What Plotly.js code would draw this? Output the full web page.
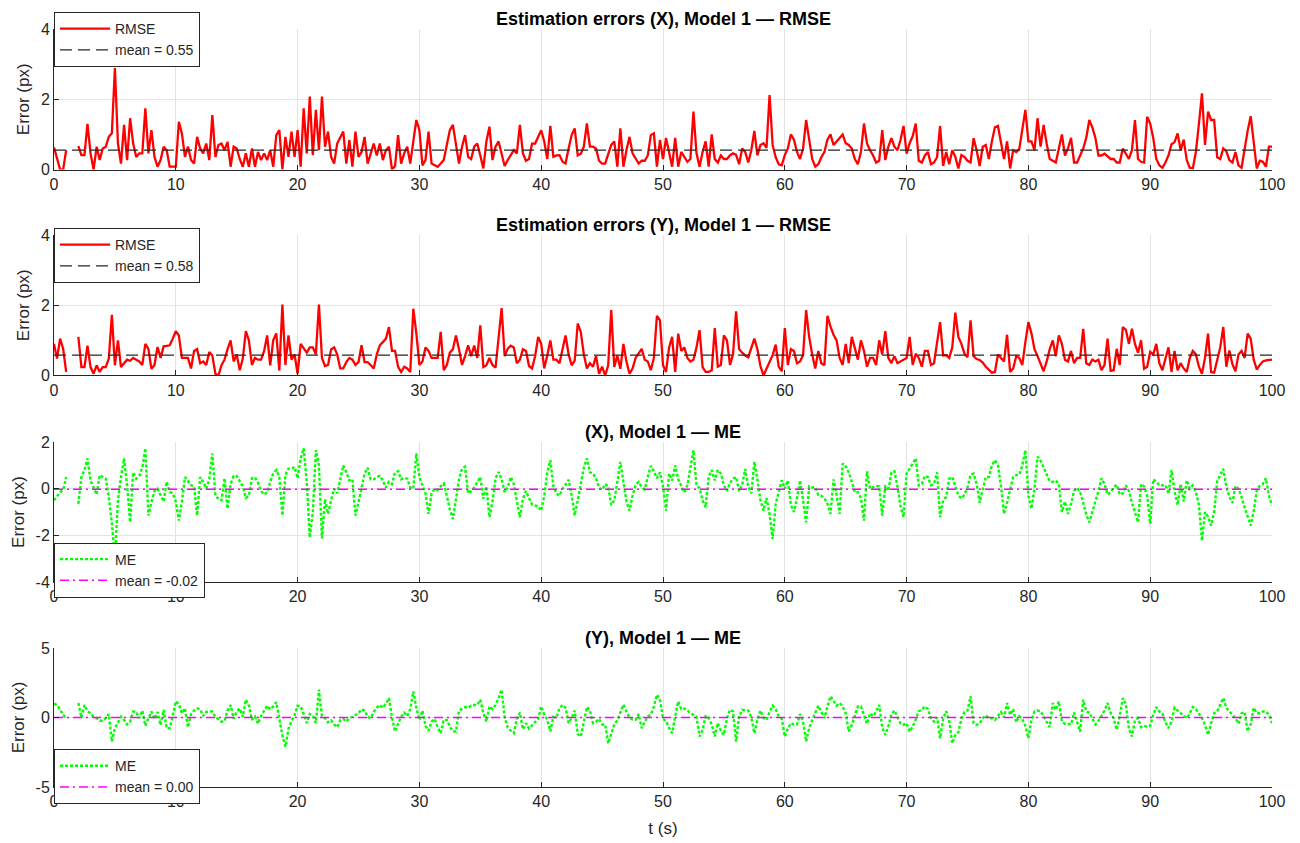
<!DOCTYPE html>
<html>
<head>
<meta charset="utf-8">
<script src="https://cdn.plot.ly/plotly-3.0.1.min.js"></script>
<style>
  html, body { margin: 0; padding: 0; background: #fff; }
  #chart { width: 1300px; height: 843px; }
</style>
</head>
<body>
<div id="chart"></div>
<script>
// ---------------- DATA (sample step 0.25 s, t = 0 ... 100) ----------------
const dt = 0.25;

const rmseX = [
  // t 0 - 34
  .63, .35, 0, 0, .55, null, null, null, .67, .41,
  .41, 1.3, .46, 0, .65, .27, .6, .65, .93, 1.03,
  2.89, .74, .17, 1.27, .27, 1.46, .74, .36, .46, .46,
  1.74, .46, 1.12, .36, .08, .27, .65, .55, .08, .08,
  .08, 1.36, 1.03, .36, .65, .27, .17, .93, .6, .46,
  .74, .27, 1.55, .36, .7, .74, .55, .79, .08, .65,
  .6, .3, .08, .46, .08, .6, .08, .5, .27, .46,
  .27, .55, .08, .98, 1.12, 0, .93, .36, 1.08, .36,
  1.12, .08, 1.74, .46, 2.08, .41, 1.7, .55, 2.08, .65,
  1.08, .36, .17, .74, .9, 1.08, .17, .84, .08, 1.08,
  .36, .5, .93, .17, .45, .74, .4, .74, .27, .55,
  .65, 0, .1, .98, .17, .46, .65, .17, .8, 1.41,
  1.12, .12, .27, 1.08, .17, .12, .08, .17, .27, .7,
  1.12, 1.27, .74, .17, .65, .98, .36,
  // t 34.25 - 67.75
  .3, .65, .74, .4, .03, .8, 1.22, .27, .65, .8,
  .45, .1, .27, .4, .55, .46, 1.27, .46, .25, .3,
  .74, .74, .95, 1.12, .8, .3, 1.24, .36, .4, .41,
  .22, .17, .6, .98, 1.17, .4, .45, .65, 1.31, .65,
  .65, .6, .25, .17, .17, .45, .7, .8, .08, 1.17,
  .08, .55, .93, .46, .3, .17, .25, .25, .4, .98,
  1.03, .08, .84, .3, .9, .5, .08, .9, .08, .5,
  .35, .22, .3, 1.65, .46, .08, .5, .8, .08, 1.0,
  .3, .2, .4, .3, .3, .4, .46, .42, .15, .6,
  .5, .2, .55, 1.1, .4, .7, .75, .62, 2.12, .7,
  .35, .15, .12, .41, .6, 1.0, .85, .5, .3, .6,
  1.41, .8, .3, .08, .15, .35, .5, .85, 1.0, .7,
  .8, .9, 1.0, .75, .7, .6, .3, .15, .5, 1.31,
  .74, .55, .4, .2, .25,
  // t 68 - 100
  1.12, .27, .65, .89, .65, .55, .84, 1.24, .45, .75,
  .95, 1.31, .25, .2, .4, .5, .15, .2, .35, 1.24,
  .1, .5, .15, .55, .36, .03, .41, .36, .25, .2,
  .89, .55, .1, .65, .7, .3, .8, 1.2, 1.24, .8,
  .3, .8, .03, .55, .5, .58, 1.2, 1.7, .8, .8,
  .55, 1.46, .65, 1.27, .74, .3, .25, .2, .6, 1.0,
  .4, .6, .9, .2, .2, .4, .6, .9, 1.41, 1.2,
  .9, .4, .4, .45, .36, .3, .3, .2, .2, .6,
  .45, .3, .55, 1.41, .3, .22, .2, 1.5, 1.31, .9,
  .3, .12, .05, .2, .4, .72, .78, 1.03, .55, .85,
  .27, .05, .03, .5, 1.3, 2.17, .7, 1.65, 1.41, 1.41,
  .35, .3, .6, .52, .27, .2, .5, .12, .05, .6,
  1.1, 1.52, .7, .03, .25, .22, .08, .65, .65
];

const rmseY = [
  // t 0 - 34
  .9, .48, 1.05, .76, .1, null, null, null, 1.1, .24,
  .24, .85, .24, .05, .29, .1, .24, .24, .48, 1.73,
  .29, 1.0, .24, .35, .45, .42, .5, .45, .4, .3,
  .9, .76, .19, .3, .81, .5, .83, .84, .86, 1.05,
  1.26, 1.14, .5, .5, .5, .2, .7, .75, .35, .4,
  .3, .67, .57, .05, 0, .29, .45, .75, 1.0, .4,
  .6, .15, .48, 1.26, 1.0, .3, .5, .45, .45, .7,
  1.14, .29, 1.0, 1.2, .14, 2.02, .3, 1.14, .45, .6,
  .05, .9, .78, .65, .8, .8, .6, 2.02, .5, .27,
  .3, .74, .8, .6, .2, .2, .38, .5, .45, .3,
  .38, .86, .38, .38, .3, .2, .6, .86, .95, 1.05,
  1.38, .7, .7, .25, .1, .25, .2, .1, 1.9, 1.2,
  .3, .4, .8, .7, .5, .5, .5, 1.24, .15, .3,
  .65, .75, 1.14, .75, .3, .55, .86,
  // t 34.25 - 67.75
  .55, .85, .5, 1.43, .24, .29, .5, .3, .22, 1.0,
  1.92, .55, .76, .85, .8, .35, .45, .75, .7, .27,
  .2, .55, 1.1, .9, .2, .57, 1.0, .45, .45, .35,
  .8, 1.14, .6, .29, .42, 1.48, 1.24, .6, .2, .35,
  .25, .55, .05, .25, 0, .29, 1.86, .24, .57, .19,
  .9, .4, .05, .2, .5, .62, .76, .45, .4, .15,
  .5, 1.7, 1.57, .29, .1, .8, 1.1, .1, 1.19, .7,
  .8, .5, .4, .45, .8, 1.29, .24, .1, .1, .15,
  1.35, .25, .3, 1.14, 1.0, .3, .6, 1.83, .75, .65,
  .57, .52, .8, 1.05, .75, .27, 0, .19, .4, .58,
  .88, .25, .12, 1.35, .3, .75, .7, .35, .4, .58,
  1.86, 1.1, .6, .2, .7, .35, .29, 1.7, 1.4, 1.16,
  1.0, .5, .3, .9, .35, 1.1, .78, .45, 1.0, .7,
  .25, .5, .5, .3, 1.0,
  // t 68 - 100
  .6, 1.26, .5, .35, .55, .35, .4, .45, .5, 1.1,
  .3, .62, .5, .25, .7, .7, .3, .35, 1.0, 1.52,
  .57, .58, .5, .8, 1.79, 1.1, .9, .62, .52, 1.57,
  .55, .47, .44, .37, .25, .17, .08, .1, .6, .5,
  .4, 1.16, .1, .2, .55, .5, .3, .95, 1.52, 1.2,
  .75, .55, .35, .12, .4, .75, 1.0, .55, 1.14, .9,
  .45, .4, .7, .35, .5, .5, 1.33, .35, .3, .45,
  .4, .45, .15, .3, 1.05, .13, .15, .76, .3, 1.38,
  1.3, .9, 1.33, .9, .65, 1.0, .19, .25, .67, .6,
  .9, .35, .15, .45, .8, .1, .7, .15, .35, .2,
  .1, .5, .7, .6, .25, .05, .5, 1.19, .1, .08,
  .4, .8, 1.38, .25, .71, .32, .12, .6, .7, .5,
  1.19, 1.05, .45, .17, .3, .4, .43, .43, .45
];

const meX = [
  // t 0 - 34
  -.5, -.3, -.15, -.05, .5, null, null, null, -.65, .5,
  .8, 1.3, .35, .05, -.25, .58, .5, .43, -.35, -1.5,
  -2.95, -.5, .5, 1.3, .15, -1.44, .7, .43, .55, .9,
  1.73, -1.15, -.58, -.1, 0, -.3, -.55, .3, -.14, -.2,
  -.55, -1.37, -.55, .5, .3, .15, .1, -1.15, .5, .29,
  0, .4, 1.51, -.3, -.43, -.5, .45, -.86, .2, .55,
  .55, .35, .1, -.4, -.3, .45, .48, .25, -.1, -.25,
  -.15, .3, .65, .8, .5, -1.15, .6, .86, .86, .93,
  .45, 1.3, 1.73, .3, -2.09, -1.0, 1.65, 1.0, -2.13, -.45,
  -1.08, -.5, 0, -.2, .45, 1.0, .7, .35, .4, -1.15,
  -.58, 0, .65, .9, .4, .4, .5, .55, .35, .05,
  .3, .2, .7, .75, .4, .47, .43, .05, 0, 1.51,
  .5, .14, -.2, -1.08, -.2, 0, -.05, .1, .22, -.3,
  -.9, -1.3, -.5, .4, .86, .94, -.2,
  // t 34.25 - 67.75
  -.1, .05, .3, .5, -.43, .1, -1.22, -.55, .45, .72,
  .4, -.15, .05, .5, .2, -.5, -1.22, -.43, -.1, -.4,
  -.68, -.72, -.75, -.95, -.3, .7, 1.22, .1, -.2, -.3,
  0, .17, .38, -.3, -1.15, -.5, .14, .9, 1.3, .7,
  .65, .45, .05, -.05, .2, .1, -.7, -.5, .29, 1.15,
  .29, -.55, -.94, -.3, .17, .29, .07, -.03, .5, .98,
  .75, .45, .7, .1, -.94, .65, .35, 1.0, .4, .15,
  -.15, .14, .9, 1.65, .15, .03, -.5, -.8, .5, .8,
  .35, .8, .65, .15, -.1, .25, .43, .5, -.1, .15,
  .85, .08, -.2, 1.15, .4, -.5, -.94, -.4, -1.1, -2.16,
  -.65, -.1, .36, 0, .35, -.7, -1.0, -.4, .36, -.5,
  -1.44, .1, .05, .07, -.27, -.3, -.4, -.65, -1.08, .4,
  -.25, -1.08, 1.08, .95, .7, .3, -.15, -.15, -.4, -1.37,
  .75, 0, .07, .12, .1,
  // t 68 - 100
  -1.15, .14, -.1, .7, .75, .1, -.75, -1.22, .65, .86,
  1.1, 1.3, .14, .2, .55, .5, .15, .2, .7, -1.22,
  -.5, -.35, .43, .5, .1, -.29, -.42, -.25, .05, .6,
  .65, .2, -.6, 0, .5, .5, 1.0, 1.22, 1.0, .1,
  -1.08, -.6, 0, .5, .58, .6, 1.0, 1.65, -.3, -.86,
  0, 1.37, 1.2, .9, .55, .32, .29, .35, .2, -1.0,
  -.55, -1.08, -.65, -.1, .04, -.15, -.6, -1.1, -1.44, -1.0,
  -.55, -.1, .45, .2, -.25, -.15, .05, .17, -.25, -.2,
  .15, -.1, -.6, -1.0, -1.44, .2, .1, -.3, -1.51, .4,
  .3, .14, .14, .15, -.22, .8, -.1, -.7, .2, -.55,
  .36, 0, .14, -.14, -.7, -2.23, -1.0, -1.2, -1.58, -1.0,
  .33, .6, .85, .1, -.35, -.6, .12, 0, -.35, -.8,
  -1.2, -1.58, -.95, -.07, .13, .2, .45, -.3, -.72
];

const meY = [
  // t 0 - 34
  1.0, .9, .55, .19, -.05, null, null, null, 1.04, 0,
  .9, .45, .3, .07, -.05, -.22, -.25, -.05, .25, -1.73,
  -.77, -.4, .05, -.17, -.5, -.29, .43, .4, -.05, .5,
  -.6, -.05, .43, -.1, .4, -.55, .55, -.77, -.77, .1,
  1.16, .95, .3, .67, -.7, .25, .5, .65, .6, .1,
  .4, .43, .43, .05, -.15, -.3, -.27, .5, .9, -.1,
  .43, .65, .05, 1.28, .85, -.17, .07, -.45, .1, .5,
  .85, .6, .8, 1.1, -.15, -1.3, -2.1, -.8, -.25, .15,
  .85, .8, .25, -.4, .25, .1, -.4, 2.0, .1, -.05,
  -.35, -.2, -.5, -.7, -.2, -.1, -.29, -.05, .05, .15,
  .3, .6, .5, .05, -.05, .4, .7, .9, .7, 1.0,
  1.4, 0, -1.01, -.45, .05, .35, .1, .6, 1.88, .7,
  -.17, .5, -.6, -.95, -.3, -.1, -.7, -1.13, -.17, -.17,
  -.65, -1.0, -1.01, .5, .65, .75, .7,
  // t 34.25 - 67.75
  .85, .9, .9, 1.28, .3, -.29, .8, .6, .9, 1.4,
  2.0, 0, -.72, -.95, -1.13, -.1, .35, -.85, -.41, -.8,
  -.6, -.33, -.1, .8, .2, -.17, -1.0, .05, -.02, .67,
  .9, .7, -.4, -.05, .5, -1.2, -1.37, -.3, .75, .5,
  -.4, -.3, -.1, -.5, -.5, -1.86, -1.13, -.5, -.2, .43,
  .92, .43, 0, -.15, -.17, .25, -.77, -.3, .07, .2,
  .8, 1.64, 1.3, -.1, -.25, -.75, -1.13, .1, 1.16, .6,
  .65, .5, .3, .19, .05, -1.37, -.9, .1, 0, -.5,
  -1.37, -.4, -.95, -1.25, -.05, .55, .43, -1.73, .1, .55,
  .55, .5, 0, -1.13, -.17, .5, -.05, -.17, .4, .85,
  .6, .1, -.1, -1.37, -.8, -.41, -.5, -.5, .25, -.3,
  -1.73, -.75, -.2, .4, .85, .4, -.05, .8, 1.52, 1.2,
  .85, 1.04, .8, .3, -1.01, -.55, .1, .8, .8, .1,
  -.45, .3, .1, .43, .9,
  // t 68 - 100
  -.7, -1.25, -.65, .25, .5, 0, -.43, -.53, -.41, -1.01,
  -.65, -.15, .45, .55, .8, .6, -.05, -.3, 0, -1.49,
  -.1, .45, -.25, -1.86, -1.25, -1.05, -.1, .4, .5, 1.52,
  -.41, -.53, -.42, -.05, .15, -.05, -.05, -.17, .15, .4,
  0, 1.04, .19, .6, -.35, .1, -.1, -.6, -1.49, -.2,
  .43, .5, .45, .1, -.25, -.7, 1.04, .55, 1.16, -.3,
  -.45, -.5, -.5, .35, -.4, -1.01, 1.28, .43, .35, -.1,
  -.5, -.25, .15, .5, 1.04, .35, -.05, -.89, .1, 1.4,
  .95, -.8, -1.37, -.2, -.05, -.7, -.6, -.68, -.6, .2,
  .75, .43, .3, -.35, -.77, -.3, .7, .5, .25, .12,
  -.05, .3, .75, .6, .28, -.05, -.53, -1.25, -.4, .31,
  .43, .95, 1.4, .7, .47, .25, -.05, -.45, .3, .4,
  -1.0, -.5, .7, .31, .31, .43, .43, .2, -.41
];

// means reported in the legends
const meanRmseX = 0.55;
const meanRmseY = 0.58;
const meanMeX = -0.02;
const meanMeY = 0.00;

const tRange = [0, 100];
const xTickVals = [0, 10, 20, 30, 40, 50, 60, 70, 80, 90, 100];

const titles = [
  'Estimation errors (X), Model 1 \u2014 RMSE',
  'Estimation errors (Y), Model 1 \u2014 RMSE',
  '(X), Model 1 \u2014 ME',
  '(Y), Model 1 \u2014 ME'
];
const yLabel = 'Error (px)';
const xLabel = 't (s)';

const y1Ticks = [0, 2, 4],        y1Text = ['0', '2', '4'],        y1Range = [0, 4];
const y2Ticks = [0, 2, 4],        y2Text = ['0', '2', '4'],        y2Range = [0, 4];
const y3Ticks = [-4, -2, 0, 2],   y3Text = ['-4', '-2', '0', '2'], y3Range = [-4, 2];
const y4Ticks = [-5, 0, 5],       y4Text = ['-5', '0', '5'],       y4Range = [-5, 5];

// ---------------- BUILD ----------------
const tOf = arr => arr.map((_, i) => i * dt);

const FONT = 'Liberation Sans, Arial, Helvetica, sans-serif';
const AX = '#262626';
const GRID = '#e3e3e3';

function meanLine(m, xa, ya, lg, style) {
  return {
    x: tRange, y: [m, m], xaxis: xa, yaxis: ya, legend: lg,
    type: 'scatter', mode: 'lines', name: 'mean = ' + m.toFixed(2),
    line: style, hoverinfo: 'skip'
  };
}

const rmseLine = { color: '#ff0000', width: 2.3 };
const meLine = { color: '#00ff00', width: 2.4, dash: '3px,2px' };
const dashBlack = { color: '#262626', width: 1.2, dash: '12px,6px' };
const dashDotMag = { color: '#ff00ff', width: 1.5, dash: '9px,4px,2px,4px' };

const data = [
  { x: tOf(rmseX), y: rmseX, xaxis: 'x', yaxis: 'y', legend: 'legend', type: 'scatter', mode: 'lines', name: 'RMSE', line: rmseLine, connectgaps: false },
  meanLine(meanRmseX, 'x', 'y', 'legend', dashBlack),
  { x: tOf(rmseY), y: rmseY, xaxis: 'x2', yaxis: 'y2', legend: 'legend2', type: 'scatter', mode: 'lines', name: 'RMSE', line: rmseLine, connectgaps: false },
  meanLine(meanRmseY, 'x2', 'y2', 'legend2', dashBlack),
  { x: tOf(meX), y: meX, xaxis: 'x3', yaxis: 'y3', legend: 'legend3', type: 'scatter', mode: 'lines', name: 'ME', line: meLine, connectgaps: false },
  meanLine(meanMeX, 'x3', 'y3', 'legend3', dashDotMag),
  { x: tOf(meY), y: meY, xaxis: 'x4', yaxis: 'y4', legend: 'legend4', type: 'scatter', mode: 'lines', name: 'ME', line: meLine, connectgaps: false },
  meanLine(meanMeY, 'x4', 'y4', 'legend4', dashDotMag)
];

function xAxis(anchor, showTitle) {
  const a = {
    anchor: anchor, domain: [0, 1], range: tRange, tickvals: xTickVals,
    showline: true, linecolor: AX, linewidth: 1, mirror: false,
    ticks: 'inside', ticklen: 5, tickcolor: AX, tickwidth: 1,
    showgrid: true, gridcolor: GRID, gridwidth: 1, zeroline: false,
    tickfont: { family: FONT, size: 16, color: AX }
  };
  if (showTitle) a.title = { text: xLabel, font: { family: FONT, size: 17, color: AX }, standoff: 12 };
  return a;
}
function yAxis(anchor, dom, range, vals, text) {
  return {
    anchor: anchor, domain: dom, range: range, tickvals: vals, ticktext: text,
    showline: true, linecolor: AX, linewidth: 1, mirror: false,
    ticks: 'inside', ticklen: 5, tickcolor: AX, tickwidth: 1,
    showgrid: true, gridcolor: GRID, gridwidth: 1, zeroline: false,
    tickfont: { family: FONT, size: 16, color: AX },
    title: { text: yLabel, font: { family: FONT, size: 17, color: AX }, standoff: 6 }
  };
}
function legendBox(y) {
  return {
    x: 0, y: y, xanchor: 'left', yanchor: 'top', xref: 'paper', yref: 'paper',
    bgcolor: '#ffffff', bordercolor: AX, borderwidth: 1,
    font: { family: FONT, size: 14, color: AX }, itemwidth: 50, tracegroupgap: 0
  };
}

const dom1 = [0.8146, 1.0], dom2 = [0.5429, 0.7282], dom3 = [0.2704, 0.4551], dom4 = [0, 0.1834];

function titleAnn(text, yPaper) {
  return {
    text: '<b>' + text + '</b>', xref: 'paper', yref: 'paper', x: 0.5, y: yPaper,
    xanchor: 'center', yanchor: 'bottom', showarrow: false,
    font: { family: FONT, size: 18, color: '#000' }
  };
}

const layout = {
  width: 1300, height: 843,
  margin: { l: 54, r: 28, t: 29, b: 56 },
  paper_bgcolor: '#ffffff', plot_bgcolor: '#ffffff',
  showlegend: true,
  font: { family: FONT, color: AX },
  xaxis: xAxis('y', false), yaxis: yAxis('x', dom1, y1Range, y1Ticks, y1Text),
  xaxis2: xAxis('y2', false), yaxis2: yAxis('x2', dom2, y2Range, y2Ticks, y2Text),
  xaxis3: xAxis('y3', false), yaxis3: yAxis('x3', dom3, y3Range, y3Ticks, y3Text),
  xaxis4: xAxis('y4', true), yaxis4: yAxis('x4', dom4, y4Range, y4Ticks, y4Text),
  legend: legendBox(1.0224),
  legend2: legendBox(0.7375),
  legend3: legendBox(0.3225),
  legend4: legendBox(0.0500),
  annotations: [
    titleAnn(titles[0], dom1[1] - 0.003),
    titleAnn(titles[1], dom2[1] - 0.003),
    titleAnn(titles[2], dom3[1] - 0.003),
    titleAnn(titles[3], dom4[1] - 0.003)
  ]
};

Plotly.newPlot('chart', data, layout, { displayModeBar: false, staticPlot: true });
</script>
</body>
</html>
